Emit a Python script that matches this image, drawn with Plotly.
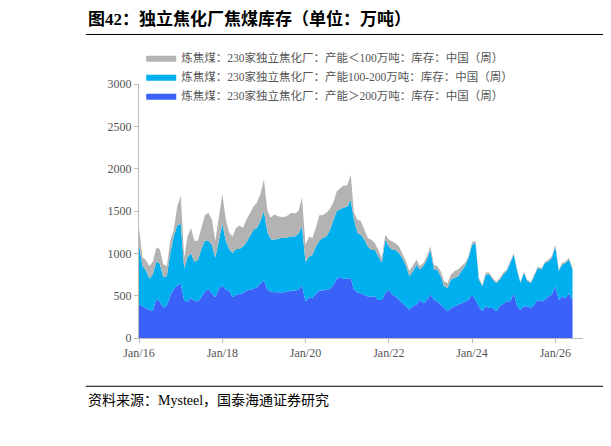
import pandas as pd
import plotly.graph_objects as go

months = pd.date_range("2016-01-01", "2026-06-01", freq="MS")

# >200万吨 (bottom layer)
big = [400, 370, 350, 330, 320, 460, 430, 360, 380, 500, 580, 620,
       640, 440, 430, 470, 440, 430, 480, 550, 580, 530, 480, 580,
       620, 570, 560, 480, 510, 520, 530, 560, 570, 580, 600, 640,
       680, 570, 550, 540, 540, 540, 540, 550, 560, 560, 570, 620,
       430, 480, 470, 520, 560, 560, 570, 580, 620, 700, 720, 700,
       700, 710, 570, 540, 530, 510, 490, 490, 490, 450, 450, 530,
       570, 510, 490, 450, 410, 375, 335, 375, 395, 450, 410, 450,
       510, 450, 435, 395, 355, 315, 355, 375, 395, 410, 435, 450,
       510, 450, 375, 315, 375, 355, 355, 315, 375, 410, 435, 435,
       530, 375, 335, 375, 375, 355, 395, 450, 435, 450, 490, 510,
       610, 450, 490, 470, 530, 450]
# 100-200万吨 (middle layer)
mid = [700, 480, 450, 370, 430, 440, 450, 360, 350, 500, 620, 710,
       710, 380, 520, 530, 460, 490, 570, 600, 570, 570, 470, 570,
       730, 580, 490, 520, 540, 530, 550, 570, 630, 700, 700, 740,
       820, 680, 620, 620, 630, 640, 640, 640, 640, 640, 660, 700,
       470, 480, 510, 560, 590, 620, 630, 690, 780, 800, 800, 840,
       850, 920, 830, 700, 690, 650, 590, 550, 550, 515, 440, 630,
       510, 530, 550, 550, 535, 475, 395, 415, 470, 360, 440, 475,
       530, 360, 375, 335, 255, 275, 335, 335, 335, 380, 415, 495,
       590, 670, 315, 295, 375, 395, 335, 335, 315, 340, 355, 450,
       455, 415, 315, 395, 295, 295, 335, 380, 375, 435, 415, 435,
       470, 340, 375, 415, 395, 360]
# <100万吨 (top layer)
small = [200, 100, 120, 150, 150, 170, 170, 150, 120, 150, 80, 220,
         330, 130, 250, 300, 250, 230, 250, 300, 330, 300, 200, 250,
         350, 250, 200, 200, 250, 280, 220, 270, 270, 270, 300, 320,
         370, 250, 250, 300, 270, 250, 250, 260, 280, 270, 270, 340,
         200, 240, 200, 220, 300, 270, 280, 250, 200, 230, 250, 260,
         250, 300, 80, 160, 160, 120, 100, 120, 80, 75, 55, 60,
         80, 100, 80, 80, 55, 55, 60, 60, 60, 40, 35, 40,
         40, 55, 40, 60, 60, 60, 60, 80, 80, 60, 35, 20,
         30, 30, 20, 20, 25, 20, 20, 15, 20, 20, 20, 20,
         15, 20, 15, 15, 15, 15, 15, 15, 15, 15, 20, 20,
         20, 20, 20, 20, 20, 20]

names = ["炼焦煤：230家独立焦化厂：产能＞200万吨：库存：中国（周）",
         "炼焦煤：230家独立焦化厂：产能100-200万吨：库存：中国（周）",
         "炼焦煤：230家独立焦化厂：产能＜100万吨：库存：中国（周）"]
colors = ["#3a62f8", "#00b0ee", "#b3b3b3"]

fig = go.Figure()
for vals, name, c in zip([big, mid, small], names, colors):
    fig.add_trace(go.Scatter(x=months, y=vals, name=name, stackgroup="one",
                             mode="lines", line=dict(width=0, color=c),
                             fillcolor=c))

font = "Liberation Serif, Noto Sans CJK SC"
fig.update_layout(
    width=611, height=446,
    margin=dict(l=131, r=36, t=76, b=116),
    plot_bgcolor="white", paper_bgcolor="white",
    font=dict(family=font, size=12, color="#555"),
    showlegend=True,
    legend=dict(x=0.005, y=1.16, xanchor="left", yanchor="top",
                traceorder="reversed", bgcolor="rgba(0,0,0,0)",
                font=dict(size=11.5, color="#555"), itemwidth=30,
                tracegroupgap=0),
    xaxis=dict(range=["2016-01-01", "2026-09-01"], tickformat="Jan/%y",
               dtick="M24", tick0="2016-01-01", showgrid=False,
               showline=True, linecolor="#bbb", ticks="outside",
               ticklen=4, tickcolor="#bbb"),
    yaxis=dict(range=[0, 3000], dtick=500, showgrid=False, showline=True,
               linecolor="#bbb", ticks="outside", ticklen=4,
               tickcolor="#bbb"),
)

fig.add_annotation(text="<b>图42：独立焦化厂焦煤库存（单位：万吨）</b>",
                   xref="paper", yref="paper", x=-0.12, y=1.255,
                   xanchor="left", yanchor="middle", showarrow=False,
                   font=dict(size=17, color="black", family=font))
fig.add_annotation(text="资料来源：Mysteel，国泰海通证券研究",
                   xref="paper", yref="paper", x=-0.12, y=-0.245,
                   xanchor="left", yanchor="middle", showarrow=False,
                   font=dict(size=14, color="black", family=font))
fig.add_shape(type="line", xref="paper", yref="paper", x0=-0.12, x1=1.05,
              y0=1.195, y1=1.195, line=dict(color="black", width=1))
fig.add_shape(type="line", xref="paper", yref="paper", x0=-0.12, x1=1.05,
              y0=-0.19, y1=-0.19, line=dict(color="black", width=1))

fig.write_html("out.html")
